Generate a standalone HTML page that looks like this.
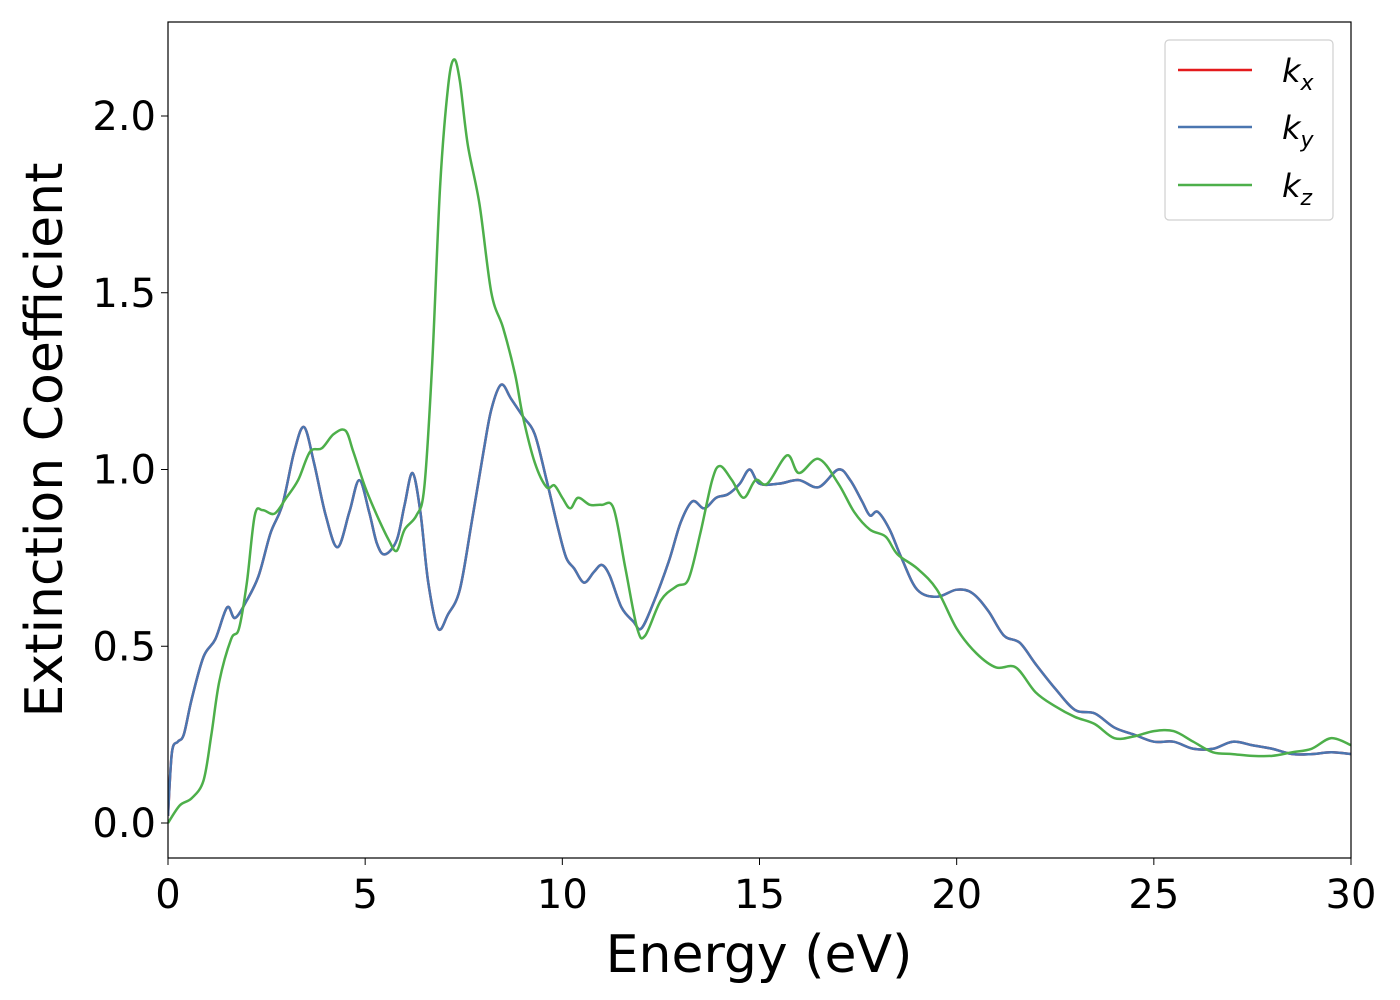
<!DOCTYPE html>
<html><head><meta charset="utf-8"><style>
body{margin:0;background:#fff;}
svg{display:block;font-family:"DejaVu Sans","Liberation Sans",sans-serif;}
</style></head><body>
<svg width="1400" height="1000" viewBox="0 0 1400 1000">
<rect x="0" y="0" width="1400" height="1000" fill="#fff"/>
<g id="plot"></g>
<rect x="168" y="22" width="1183" height="836" fill="none" stroke="#000" stroke-width="1.2"/>
<g id="xt"></g><g id="yt"></g>
<text x="759" y="972" font-size="52" text-anchor="middle">Energy (eV)</text>
<text transform="translate(62,440) rotate(-90)" font-size="52" text-anchor="middle">Extinction Coefficient</text>
<g>
<rect x="1165" y="40" width="168" height="180" rx="4" fill="#fff" stroke="#ccc" stroke-width="1.2" opacity="0.9"/>
<line x1="1178" y1="70" x2="1252" y2="70" stroke="#e41a1c" stroke-width="2.5"/>
<text x="1282" y="82" font-size="32" font-style="italic">k<tspan font-size="22" dy="8">x</tspan></text>
<line x1="1178" y1="127" x2="1252" y2="127" stroke="#4a76b0" stroke-width="2.5"/>
<text x="1282" y="139" font-size="32" font-style="italic">k<tspan font-size="22" dy="8">y</tspan></text>
<line x1="1178" y1="185" x2="1252" y2="185" stroke="#4daf4a" stroke-width="2.5"/>
<text x="1282" y="197" font-size="32" font-style="italic">k<tspan font-size="22" dy="8">z</tspan></text>
</g>
</svg>
<script>
const xTicks=[0,5,10,15,20,25,30];
const yTicks=[0.0,0.5,1.0,1.5,2.0];
const xyEnergy=[0,0.1,0.25,0.4,0.6,0.9,1.2,1.5,1.7,2.0,2.3,2.6,2.9,3.2,3.45,3.7,4.0,4.3,4.6,4.85,5.1,5.3,5.5,5.8,6.0,6.2,6.4,6.6,6.85,7.1,7.4,7.7,8.0,8.2,8.45,8.7,9.0,9.3,9.6,9.9,10.1,10.3,10.55,10.8,11.0,11.2,11.5,11.8,12.0,12.3,12.7,13.0,13.3,13.6,13.9,14.2,14.5,14.75,15.0,15.5,16.0,16.5,17.0,17.3,17.6,17.8,18.0,18.3,18.6,19.0,19.5,20.0,20.4,20.8,21.2,21.6,22.0,22.5,23.0,23.5,24.0,24.5,25.0,25.5,26.0,26.5,27.0,27.5,28.0,28.5,29.0,29.5,30];
const kxValues=[0.02,0.2,0.23,0.25,0.35,0.47,0.52,0.61,0.58,0.63,0.70,0.82,0.90,1.05,1.12,1.02,0.87,0.78,0.88,0.97,0.88,0.79,0.76,0.80,0.90,0.99,0.88,0.68,0.55,0.59,0.66,0.85,1.05,1.17,1.24,1.20,1.15,1.10,0.97,0.83,0.75,0.72,0.68,0.71,0.73,0.70,0.61,0.57,0.55,0.62,0.74,0.85,0.91,0.89,0.92,0.93,0.96,1.00,0.96,0.96,0.97,0.95,1.00,0.97,0.91,0.87,0.88,0.83,0.75,0.66,0.64,0.66,0.65,0.60,0.53,0.51,0.45,0.38,0.32,0.31,0.27,0.25,0.23,0.23,0.21,0.21,0.23,0.22,0.21,0.195,0.195,0.2,0.195];
const kyValues=kxValues.slice();
const zEnergy=[0,0.3,0.6,0.9,1.1,1.3,1.6,1.8,2.0,2.2,2.4,2.7,3.0,3.3,3.6,3.9,4.2,4.5,4.7,5.0,5.3,5.6,5.8,6.0,6.3,6.5,6.7,6.9,7.1,7.25,7.4,7.6,7.9,8.2,8.5,8.8,9.0,9.3,9.6,9.8,10.0,10.2,10.4,10.7,11.0,11.3,11.6,11.9,12.1,12.5,12.9,13.2,13.5,13.8,14.0,14.3,14.6,14.9,15.2,15.7,16.0,16.5,17.0,17.4,17.8,18.2,18.5,19.0,19.5,20.0,20.5,21.0,21.5,22.0,22.5,23.0,23.5,24.0,24.5,25.0,25.5,26.0,26.5,27.0,27.5,28.0,28.5,29.0,29.5,30];
const kzValues=[0.0,0.05,0.07,0.12,0.25,0.40,0.52,0.55,0.68,0.87,0.885,0.875,0.92,0.97,1.05,1.06,1.10,1.11,1.05,0.95,0.87,0.80,0.77,0.83,0.87,0.95,1.30,1.80,2.08,2.16,2.10,1.92,1.75,1.50,1.40,1.27,1.15,1.02,0.95,0.955,0.92,0.89,0.92,0.90,0.90,0.89,0.72,0.55,0.53,0.63,0.67,0.69,0.82,0.97,1.01,0.97,0.92,0.97,0.96,1.04,0.99,1.03,0.96,0.88,0.83,0.81,0.76,0.72,0.66,0.55,0.48,0.44,0.44,0.37,0.33,0.30,0.28,0.24,0.245,0.26,0.26,0.23,0.20,0.195,0.19,0.19,0.20,0.21,0.24,0.22];
const NS="http://www.w3.org/2000/svg";
const X=v=>168+v*(1183/30), Y=v=>823-v*353.5;
function path(xs,ys){
  const p=xs.map((x,i)=>[X(x),Y(ys[i])]);
  let d="M"+p[0][0]+","+p[0][1];
  for(let i=0;i<p.length-1;i++){
    const p0=p[Math.max(i-1,0)],p1=p[i],p2=p[i+1],p3=p[Math.min(i+2,p.length-1)];
    d+=" C"+(p1[0]+(p2[0]-p0[0])/6)+","+(p1[1]+(p2[1]-p0[1])/6)+" "+(p2[0]-(p3[0]-p1[0])/6)+","+(p2[1]-(p3[1]-p1[1])/6)+" "+p2[0]+","+p2[1];
  }
  return d;
}
const plot=document.getElementById('plot');
const cp=document.createElementNS(NS,'clipPath');cp.id='c';
const cr=document.createElementNS(NS,'rect');cr.setAttribute('x',168);cr.setAttribute('y',22);cr.setAttribute('width',1183);cr.setAttribute('height',836);
cp.appendChild(cr);plot.appendChild(cp);
function line(xs,ys,col,name){
  const e=document.createElementNS(NS,'path');
  e.setAttribute('d',path(xs,ys));e.setAttribute('fill','none');e.setAttribute('stroke',col);e.setAttribute('stroke-width','2.5');e.setAttribute('clip-path','url(#c)');
  
  
  plot.appendChild(e);
}
line(xyEnergy,kxValues,'#e41a1c','kx-series');
line(xyEnergy,kyValues,'#4a76b0','ky-series');
line(zEnergy,kzValues,'#4daf4a','kz-series');
const xt=document.getElementById('xt');
xTicks.forEach(v=>{
  const l=document.createElementNS(NS,'line');
  l.setAttribute('x1',X(v));l.setAttribute('x2',X(v));l.setAttribute('y1',858);l.setAttribute('y2',865);l.setAttribute('stroke','#000');
  
  
  xt.appendChild(l);
  const t=document.createElementNS(NS,'text');
  t.setAttribute('x',X(v));t.setAttribute('y',908);t.setAttribute('font-size','40');t.setAttribute('text-anchor','middle');t.textContent=v;
  
  
  xt.appendChild(t);
});
const yt=document.getElementById('yt');
yTicks.forEach(v=>{
  const l=document.createElementNS(NS,'line');
  l.setAttribute('x1',161);l.setAttribute('x2',168);l.setAttribute('y1',Y(v));l.setAttribute('y2',Y(v));l.setAttribute('stroke','#000');
  
  
  yt.appendChild(l);
  const t=document.createElementNS(NS,'text');
  t.setAttribute('x',156);t.setAttribute('y',Y(v)+14);t.setAttribute('font-size','40');t.setAttribute('text-anchor','end');t.textContent=v.toFixed(1);
  
  
  yt.appendChild(t);
});
</script>
</body></html>
